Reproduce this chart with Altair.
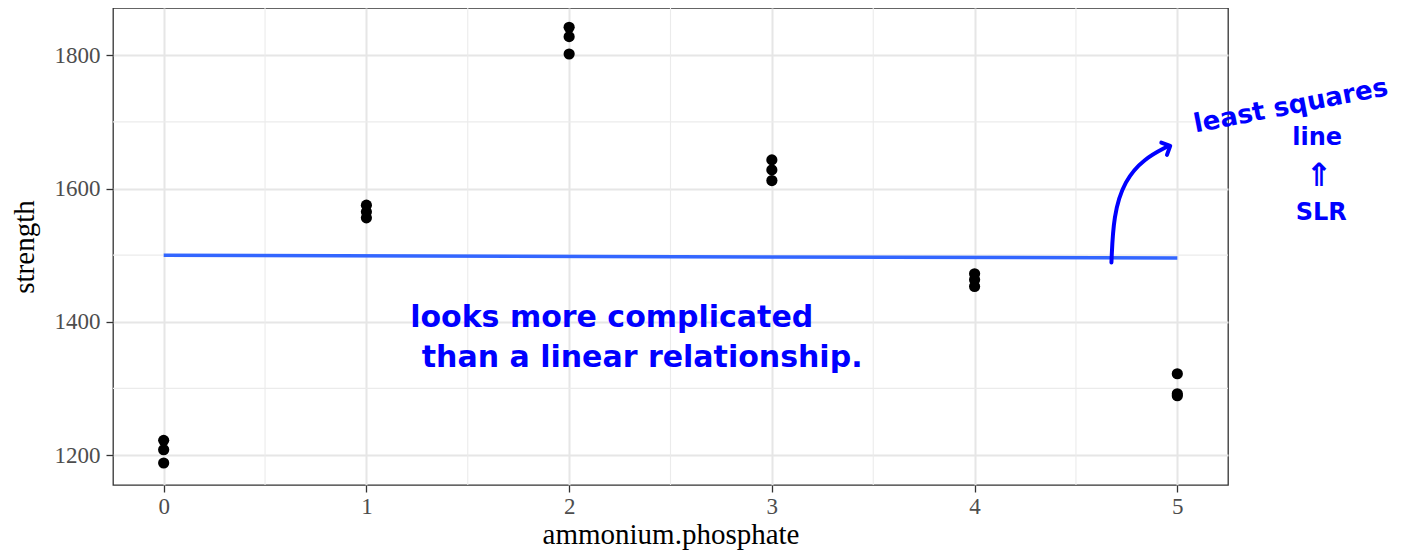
import altair as alt
import pandas as pd

# ---- data ----
phosphate = [0, 0, 0, 1, 1, 1, 2, 2, 2, 3, 3, 3, 4, 4, 4, 5, 5, 5]
strength = [1222, 1208, 1188, 1575, 1565, 1556, 1842, 1828, 1802,
             1643, 1628, 1612, 1472, 1463, 1453, 1322, 1292, 1289]

x_ticks = [0, 1, 2, 3, 4, 5]
y_ticks = [1200, 1400, 1600, 1800]
x_minor = [0.5, 1.5, 2.5, 3.5, 4.5]
y_minor = [1300, 1500, 1700]

# handwritten notes (data coordinates)
note1_text = ["looks more complicated", "than a linear relationship."]
note1_x = [2.21, 2.36]
note1_y = [1405, 1345]

note2_text = ["least squares"]
note2_x = [5.56]
note2_y = [1724]

note3_text = ["line", "SLR"]
note3_x = [5.69, 5.71]
note3_y = [1676, 1564]

note4_text = ["\u21d1"]
note4_x = [5.70]
note4_y = [1619]

arrow_x = [4.675, 4.685, 4.739, 4.837, 4.951]
arrow_y = [1489, 1560, 1612, 1645, 1663]
arrow_head_x = [4.965]
arrow_head_y = [1664]

FONT = "Liberation Serif"
HAND = "DejaVu Sans"
BLUE = "#0000FF"

df = pd.DataFrame({"phosphate": phosphate, "strength": strength})

xs = alt.Scale(domain=[-0.25, 5.25], nice=False, zero=False)
ys = alt.Scale(domain=[1155, 1871], nice=False, zero=False)

x_axis = alt.Axis(values=x_ticks, title="ammonium.phosphate", grid=True,
                  labelFontSize=23, titleFontSize=29, tickSize=7,
                  labelPadding=3, titlePadding=2, format="d")
y_axis = alt.Axis(values=y_ticks, title="strength", grid=True,
                  labelFontSize=23, titleFontSize=29, tickSize=7,
                  labelPadding=6, titlePadding=15, format="d")


def X(field):
    return alt.X(field, scale=xs, axis=x_axis, title="ammonium.phosphate")


def Y(field):
    return alt.Y(field, scale=ys, axis=y_axis, title="strength")


minor_x = alt.Chart(pd.DataFrame({"v": x_minor})).mark_rule(
    color="#EBEBEB", strokeWidth=1.1).encode(x=X("v:Q"))
minor_y = alt.Chart(pd.DataFrame({"v": y_minor})).mark_rule(
    color="#EBEBEB", strokeWidth=1.1).encode(y=Y("v:Q"))

base = alt.Chart(df)
points = base.mark_circle(size=125, color="black", opacity=1).encode(
    x=X("phosphate:Q"), y=Y("strength:Q"))
fit = base.transform_regression("phosphate", "strength").mark_line(
    color="#3366FF", strokeWidth=3.5).encode(x=X("phosphate:Q"), y=Y("strength:Q"))

n1 = alt.Chart(pd.DataFrame({"t": note1_text, "x": note1_x, "y": note1_y})).mark_text(
    font=HAND, fontSize=30, fontWeight="bold", color=BLUE).encode(
    x=X("x:Q"), y=Y("y:Q"), text="t:N")
n2 = alt.Chart(pd.DataFrame({"t": note2_text, "x": note2_x, "y": note2_y})).mark_text(
    font=HAND, fontSize=26, fontWeight="bold", color=BLUE, angle=349).encode(
    x=X("x:Q"), y=Y("y:Q"), text="t:N")
n3 = alt.Chart(pd.DataFrame({"t": note3_text, "x": note3_x, "y": note3_y})).mark_text(
    font=HAND, fontSize=24, fontWeight="bold", color=BLUE).encode(
    x=X("x:Q"), y=Y("y:Q"), text="t:N")
n4 = alt.Chart(pd.DataFrame({"t": note4_text, "x": note4_x, "y": note4_y})).mark_text(
    font=HAND, fontSize=32, fontWeight="bold", color=BLUE).encode(
    x=X("x:Q"), y=Y("y:Q"), text="t:N")

arrow = alt.Chart(pd.DataFrame({"x": arrow_x, "y": arrow_y, "o": list(range(len(arrow_x)))})).mark_line(
    color=BLUE, strokeWidth=4, interpolate="basis", strokeCap="round").encode(
    x=X("x:Q"), y=Y("y:Q"), order="o:O")
head = alt.Chart(pd.DataFrame({"x": arrow_head_x, "y": arrow_head_y})).mark_point(
    shape="M-1,-1L0,0L-1,1", filled=False, color=BLUE, strokeWidth=4, size=180,
    angle=335, opacity=1, strokeCap="round", strokeJoin="round").encode(
    x=X("x:Q"), y=Y("y:Q"))

chart = alt.layer(minor_x, minor_y, points, fit, n1, n2, n3, n4, arrow, head).properties(
    width=1115, height=477,
    autosize=alt.AutoSizeParams(type="none"),
    padding={"left": 105, "top": 0, "right": 169, "bottom": 72},
).configure_view(
    stroke="#333333", strokeWidth=1.3
).configure_axis(
    labelFont=FONT, titleFont=FONT, labelColor="#4D4D4D", titleColor="black",
    titleFontWeight="normal", domain=False, tickColor="#333333", tickWidth=1.3,
    gridColor="#E6E6E6", gridWidth=2,
)

chart.save("out.html", embed_options={"renderer": "svg", "actions": False})
